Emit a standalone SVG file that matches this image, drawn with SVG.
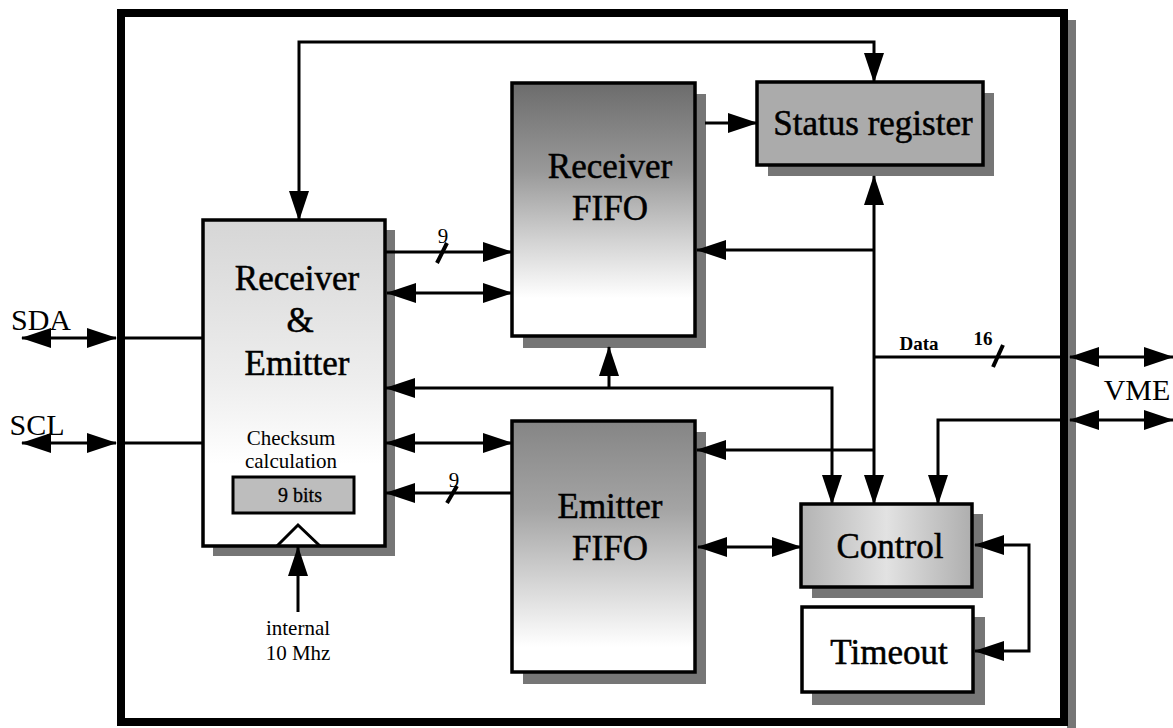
<svg xmlns="http://www.w3.org/2000/svg" width="1173" height="728" viewBox="0 0 1173 728">
<style>
.t{font-family:"Liberation Serif","Times New Roman",serif;fill:#000;text-anchor:middle}
.big{font-size:35px;stroke:#000;stroke-width:0.5}
.mid{font-size:21px}
.sm{font-size:19px;font-weight:bold}
.box{stroke:#000;stroke-width:3.5}
.sh{fill:#767676}
.ln{fill:none;stroke:#000;stroke-width:3}
.sl{fill:none;stroke:#000;stroke-width:4}
.ar{marker-end:url(#a)}
.ar2{marker-start:url(#a);marker-end:url(#a)}
</style>
<defs>
<marker id="a" markerUnits="userSpaceOnUse" viewBox="0 0 30 20" markerWidth="30" markerHeight="20" refX="29" refY="10" orient="auto-start-reverse"><path d="M0,0L30,10L0,20Z" fill="#000"/></marker>
<linearGradient id="gRE" x1="0" y1="0" x2="0" y2="1"><stop offset="0" stop-color="#d6d6d6"/><stop offset="0.5" stop-color="#eeeeee"/><stop offset="0.75" stop-color="#ffffff"/></linearGradient>
<linearGradient id="gRF" x1="0" y1="0" x2="0" y2="1"><stop offset="0" stop-color="#6c6c6c"/><stop offset="0.35" stop-color="#999999"/><stop offset="0.62" stop-color="#d2d2d2"/><stop offset="0.85" stop-color="#ffffff"/></linearGradient>
<linearGradient id="gEF" x1="0" y1="0" x2="0" y2="1"><stop offset="0" stop-color="#858585"/><stop offset="0.35" stop-color="#a4a4a4"/><stop offset="0.65" stop-color="#d6d6d6"/><stop offset="0.9" stop-color="#ffffff"/></linearGradient>
<linearGradient id="gC" x1="0" y1="0" x2="1" y2="0"><stop offset="0" stop-color="#b3b3b3"/><stop offset="0.5" stop-color="#e2e2e2"/><stop offset="1" stop-color="#aeaeae"/></linearGradient>
</defs>
<rect width="1173" height="728" fill="#fff"/>
<g id="frame">
<rect class="sh" x="1067" y="20" width="9" height="708"/>
<rect x="121" y="13" width="943" height="709" fill="none" stroke="#000" stroke-width="8"/>
</g>
<g id="receiver-emitter">
<rect class="sh" x="213" y="230" width="182" height="326"/>
<rect class="box" x="203" y="220" width="182" height="326" fill="url(#gRE)"/>
<text class="t big" x="297" y="290">Receiver</text>
<text class="t big" x="300" y="332">&amp;</text>
<text class="t big" x="297" y="375">Emitter</text>
<text class="t mid" x="291" y="445">Checksum</text>
<text class="t mid" x="291" y="468">calculation</text>
<rect x="233" y="477" width="121" height="36" fill="#bdbdbd" stroke="#000" stroke-width="3"/>
<text class="t" x="300" y="502" style="font-size:20px;stroke:#000;stroke-width:0.3">9 bits</text>
<polyline class="ln" points="277,546 298,525 320,546"/>
</g>
<g id="receiver-fifo">
<rect class="sh" x="523" y="94" width="183" height="254"/>
<rect class="box" x="512" y="83" width="183" height="253" fill="url(#gRF)"/>
<text class="t big" x="610" y="178">Receiver</text>
<text class="t big" x="610" y="220">FIFO</text>
</g>
<g id="emitter-fifo">
<rect class="sh" x="523" y="432" width="183" height="252"/>
<rect class="box" x="512" y="421" width="183" height="251" fill="url(#gEF)"/>
<text class="t big" x="610" y="518">Emitter</text>
<text class="t big" x="610" y="560">FIFO</text>
</g>
<g id="status-register">
<rect class="sh" x="768" y="93" width="226" height="83"/>
<rect class="box" x="757" y="82" width="226" height="83" fill="#ababab"/>
<text class="t big" x="873" y="135">Status register</text>
</g>
<g id="control">
<rect class="sh" x="812" y="514" width="171" height="84"/>
<rect class="box" x="801" y="504" width="171" height="83" fill="url(#gC)"/>
<text class="t big" x="890" y="558">Control</text>
</g>
<g id="timeout">
<rect class="sh" x="812" y="617" width="173" height="88"/>
<rect class="box" x="802" y="607" width="171" height="85" fill="#fff"/>
<text class="t big" x="889" y="664">Timeout</text>
</g>
<g id="labels">
<text class="t" x="41" y="330" style="font-size:30px">SDA</text>
<text class="t" x="37" y="435" style="font-size:30px">SCL</text>
<text class="t" x="1137" y="400" style="font-size:30px">VME</text>
<text class="t mid" x="298" y="635">internal</text>
<text class="t mid" x="298" y="660">10 Mhz</text>
<text class="t sm" x="919" y="350">Data</text>
<text class="t sm" x="983" y="345">16</text>
<text class="t" x="443" y="243" style="font-size:21px">9</text>
<text class="t" x="454" y="487" style="font-size:21px">9</text>
</g>
<g id="connectors">
<path class="ln ar2" d="M299,220 L299,42 L874,42 L874,82"/>
<path class="ln ar" d="M705,123 L757,123"/>
<path class="ln ar2" d="M874,176 L874,504"/>
<path class="ln ar" d="M874,250 L697,250"/>
<path class="ln" d="M874,357 L1062,357"/>
<path class="sl" d="M993,367 L1003,345"/>
<path class="ln ar" d="M874,450 L697,450"/>
<path class="ln ar2" d="M386,388 L832,388 L832,504"/>
<path class="ln ar" d="M609,388 L609,347"/>
<path class="ln ar" d="M1060,420 L938,420 L938,504"/>
<path class="ln ar2" d="M698,547 L801,547"/>
<path class="ln ar2" d="M975,545 L1029,545 L1029,651 L975,651"/>
<path class="ln ar" d="M386,252 L512,252"/>
<path class="sl" d="M437,263 L447,243"/>
<path class="ln ar2" d="M387,293 L512,293"/>
<path class="ln ar2" d="M386,443 L512,443"/>
<path class="ln ar" d="M512,493 L386,493"/>
<path class="sl" d="M447,503 L457,486"/>
<path class="ln" d="M124,338 L203,338"/>
<path class="ln ar2" d="M22,338 L116,338"/>
<path class="ln" d="M124,443 L203,443"/>
<path class="ln ar2" d="M22,443 L116,443"/>
<path class="ln ar2" d="M1070,357 L1173,357"/>
<path class="ln ar2" d="M1070,420 L1173,420"/>
<path class="ln ar" d="M298,612 L298,547"/>
</g>
</svg>
